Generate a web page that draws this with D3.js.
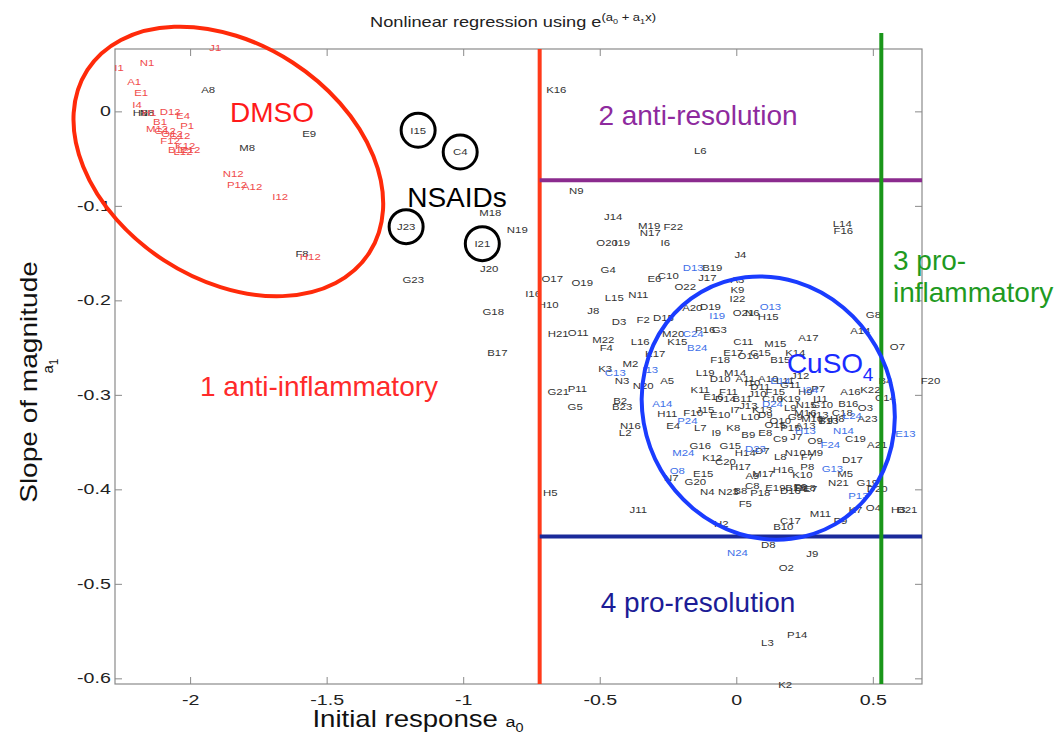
<!DOCTYPE html>
<html>
<head>
<meta charset="utf-8">
<script src="https://cdn.jsdelivr.net/npm/d3@7"></script>
<style>
  body { margin: 0; background: #fff; }
  svg text { font-family: "Liberation Sans", Arial, sans-serif; }
</style>
</head>
<body>
<svg id="chart" width="1063" height="740"></svg>
<script>
// tick values
const xTicks = [-2, -1.5, -1, -0.5, 0, 0.5];
const yTicks = [0, -0.1, -0.2, -0.3, -0.4, -0.5, -0.6];

// region cut-offs
const a0Cuts = [-0.72, 0.531];
const a1Cuts = [-0.073, -0.45];

// wells: [name, a0, a1]
const dmsoWells = [
  ["J1", -1.908, 0.067], ["N1", -2.158, 0.052], ["I1", -2.260, 0.046], ["A1", -2.205, 0.031],
  ["E1", -2.179, 0.020], ["I4", -2.194, 0.007], ["H1", -2.150, -0.001], ["D12", -2.073, 0.000],
  ["E4", -2.026, -0.005], ["B1", -2.110, -0.011], ["P1", -2.011, -0.015], ["M12", -2.121, -0.018],
  ["G12", -2.092, -0.020], ["O12", -2.066, -0.024], ["C12", -2.037, -0.026], ["F12", -2.073, -0.031],
  ["K12", -2.018, -0.036], ["B12", -2.044, -0.041], ["E12", -2.000, -0.041], ["L12", -2.026, -0.043],
  ["N12", -1.842, -0.066], ["P12", -1.828, -0.078], ["A12", -1.773, -0.080], ["I12", -1.670, -0.090],
  ["H12", -1.560, -0.154]
];

const nsaidWells = [
  ["I15", -1.165, -0.020], ["C4", -1.011, -0.043], ["J23", -1.209, -0.122], ["I21", -0.930, -0.140]
];

const cusoWells = [
  ["D13", -0.158, -0.165], ["I19", -0.070, -0.216], ["O13", 0.125, -0.207], ["C24", -0.158, -0.235],
  ["B24", -0.143, -0.250], ["C13", -0.443, -0.276], ["I13", -0.315, -0.273], ["A14", -0.271, -0.309],
  ["P24", -0.179, -0.327], ["E14", 0.161, -0.285], ["I24", 0.271, -0.295], ["D24", 0.132, -0.309],
  ["L24", 0.425, -0.322], ["E13", 0.619, -0.341], ["H13", 0.253, -0.338], ["N14", 0.392, -0.338],
  ["F24", 0.344, -0.353], ["D23", 0.070, -0.357], ["G13", 0.352, -0.378], ["P13", 0.447, -0.407],
  ["M24", -0.194, -0.361], ["O8", -0.216, -0.380], ["N24", 0.004, -0.467]
];

const otherWells = [
  ["H8", -2.183, -0.001], ["N8", -2.158, -0.001], ["A8", -1.934, 0.023], ["M8", -1.791, -0.038],
  ["E9", -1.564, -0.024], ["F8", -1.590, -0.151], ["G23", -1.183, -0.178], ["M18", -0.901, -0.107],
  ["J20", -0.905, -0.166], ["N19", -0.802, -0.125], ["G18", -0.890, -0.212], ["B17", -0.875, -0.255],
  ["K16", -0.659, 0.023], ["L6", -0.132, -0.042], ["N9", -0.586, -0.084], ["J14", -0.451, -0.111],
  ["M19", -0.319, -0.121], ["N17", -0.315, -0.128], ["F22", -0.231, -0.122], ["O20", -0.473, -0.139],
  ["I19", -0.418, -0.139], ["I6", -0.260, -0.139], ["G4", -0.469, -0.167], ["O17", -0.674, -0.177],
  ["O19", -0.564, -0.181], ["E6", -0.300, -0.177], ["C10", -0.249, -0.174], ["B19", -0.088, -0.165],
  ["I16", -0.744, -0.193], ["H10", -0.689, -0.205], ["L15", -0.447, -0.197], ["N11", -0.359, -0.194],
  ["J8", -0.524, -0.211], ["O22", -0.187, -0.186], ["J17", -0.106, -0.176], ["A20", -0.161, -0.208],
  ["D19", -0.095, -0.207], ["L14", 0.388, -0.119], ["F16", 0.392, -0.126], ["J4", 0.015, -0.152],
  ["A3", 0.004, -0.178], ["K9", 0.004, -0.189], ["I22", 0.004, -0.198], ["O21", 0.026, -0.213],
  ["N6", 0.059, -0.213], ["H15", 0.117, -0.217], ["G8", 0.502, -0.215], ["D3", -0.429, -0.223],
  ["F2", -0.341, -0.220], ["D15", -0.267, -0.218], ["H21", -0.652, -0.235], ["O11", -0.579, -0.234],
  ["M22", -0.487, -0.242], ["F4", -0.476, -0.250], ["L16", -0.352, -0.244], ["K15", -0.216, -0.244],
  ["M20", -0.231, -0.235], ["P16", -0.114, -0.231], ["G3", -0.062, -0.231], ["K17", -0.297, -0.256],
  ["K3", -0.480, -0.272], ["M2", -0.388, -0.267], ["N3", -0.418, -0.285], ["N20", -0.341, -0.290],
  ["A5", -0.253, -0.285], ["G21", -0.652, -0.297], ["P11", -0.582, -0.293], ["G5", -0.590, -0.313],
  ["B2", -0.425, -0.306], ["B23", -0.418, -0.313], ["H11", -0.253, -0.320], ["F10", -0.158, -0.319],
  ["N16", -0.388, -0.333], ["L2", -0.407, -0.340], ["E4", -0.231, -0.333], ["C11", 0.026, -0.244],
  ["M15", 0.143, -0.246], ["A17", 0.264, -0.240], ["A14", 0.454, -0.232], ["O7", 0.590, -0.249],
  ["B4", 0.546, -0.285], ["F20", 0.711, -0.285], ["A16", 0.418, -0.297], ["K22", 0.491, -0.295],
  ["C14", 0.546, -0.303], ["B16", 0.410, -0.309], ["O3", 0.473, -0.314], ["H8", 0.370, -0.325],
  ["A23", 0.480, -0.325], ["A21", 0.516, -0.353], ["D17", 0.425, -0.369], ["M5", 0.399, -0.383],
  ["N21", 0.374, -0.393], ["G19", 0.480, -0.393], ["D20", 0.516, -0.399], ["H3", 0.593, -0.422],
  ["B21", 0.626, -0.422], ["K7", 0.436, -0.422], ["O4", 0.502, -0.419], ["M11", 0.308, -0.426],
  ["P9", 0.381, -0.433], ["C17", 0.198, -0.433], ["B10", 0.172, -0.440], ["F5", 0.033, -0.415],
  ["H16", 0.172, -0.379], ["P8", 0.260, -0.376], ["M17", 0.099, -0.383], ["K10", 0.242, -0.384],
  ["F7", 0.260, -0.365], ["C19", 0.436, -0.346], ["E19", 0.143, -0.398], ["B18", 0.216, -0.398],
  ["D18", 0.253, -0.398], ["P18", 0.088, -0.404], ["N7", -0.238, -0.388], ["G20", -0.150, -0.392],
  ["E15", -0.121, -0.383], ["N4", -0.106, -0.402], ["N23", -0.029, -0.402], ["H5", -0.681, -0.404],
  ["J11", -0.359, -0.422], ["H2", -0.055, -0.436], ["D8", 0.117, -0.459], ["J9", 0.278, -0.468],
  ["O2", 0.183, -0.483], ["L3", 0.114, -0.562], ["P14", 0.223, -0.554], ["K2", 0.179, -0.607],
  // dense CuSO cluster
  ["F18", -0.059, -0.263], ["E17", -0.011, -0.255], ["O16", 0.044, -0.259], ["C15", 0.088, -0.255],
  ["B15", 0.161, -0.263], ["K14", 0.216, -0.255], ["L19", -0.114, -0.276], ["D10", -0.059, -0.283],
  ["M14", -0.004, -0.276], ["I10", 0.059, -0.287], ["A10", 0.117, -0.283], ["L11", 0.179, -0.285],
  ["J12", 0.234, -0.280], ["P7", 0.300, -0.293], ["K11", -0.132, -0.295], ["E16", -0.084, -0.302],
  ["F11", -0.029, -0.297], ["B11", 0.022, -0.304], ["J10", 0.077, -0.299], ["C16", 0.132, -0.304],
  ["K19", 0.198, -0.304], ["N15", 0.256, -0.310], ["G10", 0.315, -0.310], ["J15", -0.114, -0.316],
  ["E10", -0.059, -0.321], ["I7", -0.004, -0.316], ["L10", 0.051, -0.323], ["D9", 0.106, -0.321],
  ["O10", 0.161, -0.327], ["G9", 0.216, -0.323], ["M10", 0.278, -0.325], ["F9", 0.330, -0.327],
  ["L7", -0.132, -0.335], ["I9", -0.073, -0.340], ["K8", -0.011, -0.335], ["B9", 0.044, -0.342],
  ["E8", 0.106, -0.340], ["C9", 0.161, -0.346], ["J7", 0.220, -0.344], ["O9", 0.289, -0.348],
  ["G15", -0.022, -0.354], ["H14", 0.033, -0.361], ["D7", 0.095, -0.359], ["L8", 0.161, -0.365],
  ["N10", 0.216, -0.361], ["M9", 0.289, -0.361], ["G16", -0.132, -0.354], ["K12", -0.088, -0.367],
  ["C20", -0.040, -0.371], ["H17", 0.015, -0.376], ["A9", 0.059, -0.386], ["B8", 0.015, -0.401],
  ["C8", 0.059, -0.396], ["D16", 0.198, -0.401], ["F6", 0.234, -0.397], ["E7", 0.271, -0.399],
  ["A11", 0.033, -0.283], ["D11", 0.088, -0.291], ["F15", 0.143, -0.297], ["G11", 0.198, -0.289],
  ["H9", 0.253, -0.297], ["I11", 0.308, -0.304], ["J13", 0.044, -0.311], ["K13", 0.095, -0.316],
  ["L9", 0.198, -0.314], ["M16", 0.253, -0.319], ["N13", 0.300, -0.321], ["O15", 0.143, -0.332],
  ["P15", 0.198, -0.335], ["A13", 0.253, -0.333], ["B13", 0.337, -0.327], ["C18", 0.388, -0.319],
  ["D14", -0.040, -0.304]
];

const TEXT_SX = 1.2;   // horizontal stretch of the figure text
const svg = d3.select("#chart");
const margin = { left: 115, right: 922, top: 49, bottom: 684 };

const x = d3.scaleLinear().domain([-2.275, 0.68]).range([margin.left, margin.right]);
const y = d3.scaleLinear().domain([-0.606, 0.066]).range([margin.bottom, margin.top]);

// frame + axes
const axisColor = "#8a8a8a";
function styleAxis(g) {
  g.select(".domain").remove();
  g.selectAll(".tick line").attr("stroke", axisColor);
  g.selectAll(".tick text").attr("fill", "#222").style("font-size", "14px");
}
const fmt = d => String(d);
svg.append("g").attr("transform", `translate(0,${margin.bottom})`)
  .call(d3.axisBottom(x).tickValues(xTicks).tickSizeInner(-7).tickSizeOuter(0).tickPadding(11).tickFormat(fmt))
  .call(styleAxis)
  .call(g => g.selectAll(".tick text").attr("transform", "scale(1.4,1)"));
svg.append("g").attr("transform", `translate(0,${margin.top})`)
  .call(d3.axisTop(x).tickValues(xTicks).tickSizeInner(-7).tickSizeOuter(0).tickFormat(""))
  .call(styleAxis);
svg.append("g").attr("transform", `translate(${margin.left},0)`)
  .call(d3.axisLeft(y).tickValues(yTicks).tickSizeInner(-7).tickSizeOuter(0).tickPadding(3).tickFormat(fmt))
  .call(styleAxis)
  .call(g => g.selectAll(".tick text").attr("transform", "scale(1.4,1)"));
svg.append("g").attr("transform", `translate(${margin.right},0)`)
  .call(d3.axisRight(y).tickValues(yTicks).tickSizeInner(-7).tickSizeOuter(0).tickFormat(""))
  .call(styleAxis);
svg.append("rect").attr("x", margin.left).attr("y", margin.top)
  .attr("width", margin.right - margin.left).attr("height", margin.bottom - margin.top)
  .attr("fill", "none").attr("stroke", axisColor).attr("stroke-width", 1.2);

// well labels
function addWells(list, color) {
  svg.append("g").selectAll("text").data(list).join("text")
    .attr("transform", d => `translate(${x(d[1])},${y(d[2])}) scale(${TEXT_SX},1)`)
    .attr("text-anchor", "middle").attr("dy", "0.35em")
    .attr("fill", color).style("font-size", "9.5px")
    .text(d => d[0]);
}
addWells(otherWells, "#333");
addWells(dmsoWells, "#f04a4a");
addWells(cusoWells, "#3d6fe8");
addWells(nsaidWells, "#333");

// NSAID circles
svg.append("g").selectAll("circle").data(nsaidWells).join("circle")
  .attr("cx", d => x(d[1])).attr("cy", d => y(d[2])).attr("r", 17)
  .attr("fill", "none").attr("stroke", "#000").attr("stroke-width", 3);

// region lines
svg.append("line").attr("x1", x(a0Cuts[0])).attr("x2", x(a0Cuts[0]))
  .attr("y1", margin.top).attr("y2", margin.bottom).attr("stroke", "#ff3a1a").attr("stroke-width", 4);
svg.append("line").attr("x1", x(a0Cuts[0])).attr("x2", margin.right)
  .attr("y1", y(a1Cuts[0])).attr("y2", y(a1Cuts[0])).attr("stroke", "#8b2b8e").attr("stroke-width", 4);
svg.append("line").attr("x1", x(a0Cuts[0])).attr("x2", margin.right)
  .attr("y1", y(a1Cuts[1])).attr("y2", y(a1Cuts[1])).attr("stroke", "#1a2a9a").attr("stroke-width", 4);
svg.append("line").attr("x1", x(a0Cuts[1])).attr("x2", x(a0Cuts[1]))
  .attr("y1", 33).attr("y2", margin.bottom).attr("stroke", "#1a961a").attr("stroke-width", 4);

// group ellipses
svg.append("ellipse")
  .attr("transform", `translate(${x(-1.86)},${y(-0.053)}) rotate(33)`)
  .attr("rx", 168).attr("ry", 118)
  .attr("fill", "none").attr("stroke", "#ff2a0a").attr("stroke-width", 4);
svg.append("ellipse")
  .attr("transform", `translate(${x(0.117)},${y(-0.314)}) rotate(60)`)
  .attr("rx", 134).attr("ry", 124)
  .attr("fill", "none").attr("stroke", "#1a3cff").attr("stroke-width", 4);

// annotations
function note(txt, px, py, color, anchor) {
  return svg.append("text").attr("x", px).attr("y", py)
    .attr("text-anchor", anchor || "middle").attr("fill", color)
    .style("font-size", "28px").text(txt);
}
note("DMSO", 272, 122, "#ff1a1a");
note("NSAIDs", 457, 207, "#000");
note("1 anti-inflammatory", 319, 396, "#ff2a2a");
note("2 anti-resolution", 698, 125, "#8e2a9e");
note("3 pro-", 893, 270, "#1f9a1f", "start");
note("inflammatory", 893, 302, "#1f9a1f", "start");
note("4 pro-resolution", 698, 612, "#1c1c96");
note("CuSO", 825, 373, "#1a2bff");
svg.append("text").attr("x", 868).attr("y", 381).attr("text-anchor", "middle")
  .attr("fill", "#1a2bff").style("font-size", "19px").text("4");

// title
const title = svg.append("text").attr("transform", "translate(513,27) scale(1.3,1)")
  .attr("text-anchor", "middle").attr("fill", "#222").style("font-size", "14px");
title.append("tspan").text("Nonlinear regression using e");
title.append("tspan").attr("dy", -6).style("font-size", "10px").text("(a");
title.append("tspan").attr("dy", 3).style("font-size", "7px").text("0");
title.append("tspan").attr("dy", -3).style("font-size", "10px").text(" + a");
title.append("tspan").attr("dy", 3).style("font-size", "7px").text("1");
title.append("tspan").attr("dy", -3).style("font-size", "10px").text("x)");

// axis labels
const xl = svg.append("text").attr("transform", "translate(418,727) scale(1.2,1)")
  .attr("text-anchor", "middle").attr("fill", "#111").style("font-size", "23px");
xl.append("tspan").text("Initial response ");
xl.append("tspan").style("font-size", "15px").text("a");
xl.append("tspan").attr("dy", 5).style("font-size", "12px").text("0");

svg.append("text").attr("transform", "translate(37,382) rotate(-90) scale(1.22,1)")
  .attr("text-anchor", "middle").attr("fill", "#111").style("font-size", "23px")
  .text("Slope of magnitude");
const yl = svg.append("text").attr("transform", "translate(53,366) rotate(-90)")
  .attr("text-anchor", "middle").attr("fill", "#111").style("font-size", "15px");
yl.append("tspan").text("a");
yl.append("tspan").attr("dy", 5).style("font-size", "12px").text("1");
</script>
</body>
</html>
